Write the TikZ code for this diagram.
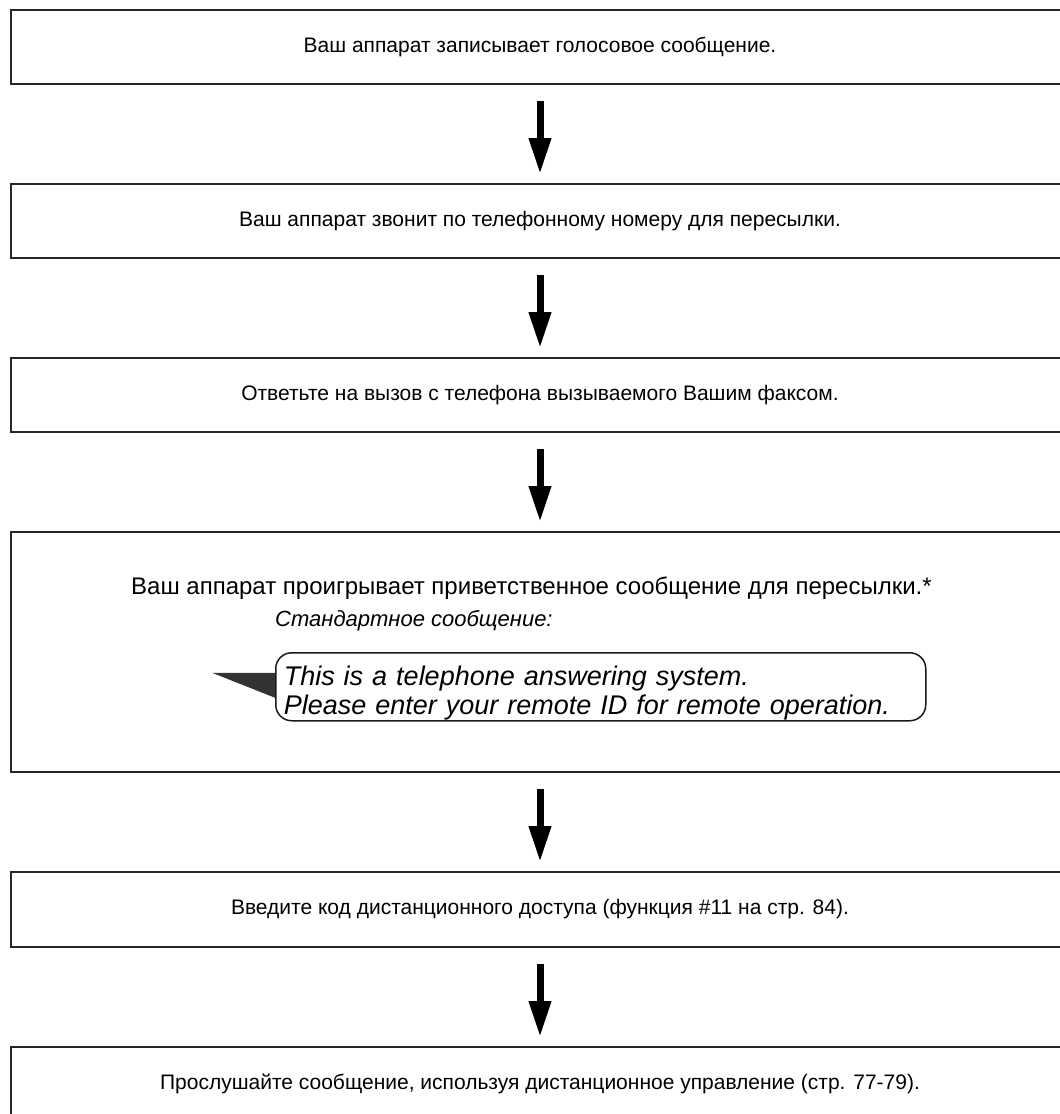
\documentclass[tikz,border=0pt]{standalone}
\usepackage{fontspec}
\setmainfont{Liberation Sans}
\usetikzlibrary{arrows.meta,positioning,calc,backgrounds}

\begin{document}
\begin{tikzpicture}[x=1pt, y=-1pt,
  box/.style={draw=black!85, line width=2pt, minimum width=1058pt, minimum height=#1, inner sep=0pt, font=\fontsize{21}{25}\selectfont},
  box/.default=74pt,
  flow/.style={-{Triangle[length=36pt, width=21pt]}, line width=7pt, shorten <=16pt, shorten >=9pt},
  txt/.style={anchor=west, inner sep=0pt, font=\fontsize{#1}{25}\selectfont},
  txt/.default=21,
  note/.style={anchor=west, inner sep=0pt, font=\fontsize{22}{25}\selectfont\itshape},
  bubble/.style={draw=black!90, line width=1.5pt, rounded corners=16pt, minimum width=650pt, minimum height=68pt, text width=634pt, inner xsep=8pt, inner ysep=0pt, align=left, font=\fontsize{27}{29}\selectfont\itshape},
]
\def\tailx{63}     % длина хвостика выноски
\def\tailup{14}    % верх хвостика
\def\taildn{11}    % низ хвостика

\clip (0,0) rectangle (1060,1114);

\node[box] (rec) at (540,47) {Ваш аппарат записывает голосовое сообщение.};
\node[box] (call) at (540,221) {Ваш аппарат звонит по телефонному номеру для пересылки.};
\node[box] (ans) at (540,395) {Ответьте на вызов с телефона вызываемого Вашим факсом.};
\node[box=240pt] (play) at (540,652) {};
\node[box=75pt] (code) at (540,909.5) {Введите код дистанционного доступа (функция \#11 на стр. 84).};
\node[box] (listen) at (540,1084) {Прослушайте сообщение, используя дистанционное управление (стр. 77-79).};

\node[txt=24] (greet) at (131,588) {Ваш аппарат проигрывает приветственное сообщение для пересылки.*};
\node[note] (std) at (275,621) {Стандартное сообщение:};
\node[bubble, anchor=north west] (msg) at (275,652) {\rule{0pt}{33pt}This is a telephone answering system.\\Please enter your remote ID for remote operation.};

\begin{scope}[on background layer]
  \fill[black!80] ($(msg.west)+(-\tailx,-\tailup)$) -- ($(msg.west)+(0,-\tailup)$) -- ($(msg.west)+(0,\taildn)$) -- cycle;
\end{scope}

\draw[flow] (rec) -- (call);
\draw[flow] (call) -- (ans);
\draw[flow] (ans) -- (play);
\draw[flow] (play) -- (code);
\draw[flow] (code) -- (listen);
\end{tikzpicture}
\end{document}
